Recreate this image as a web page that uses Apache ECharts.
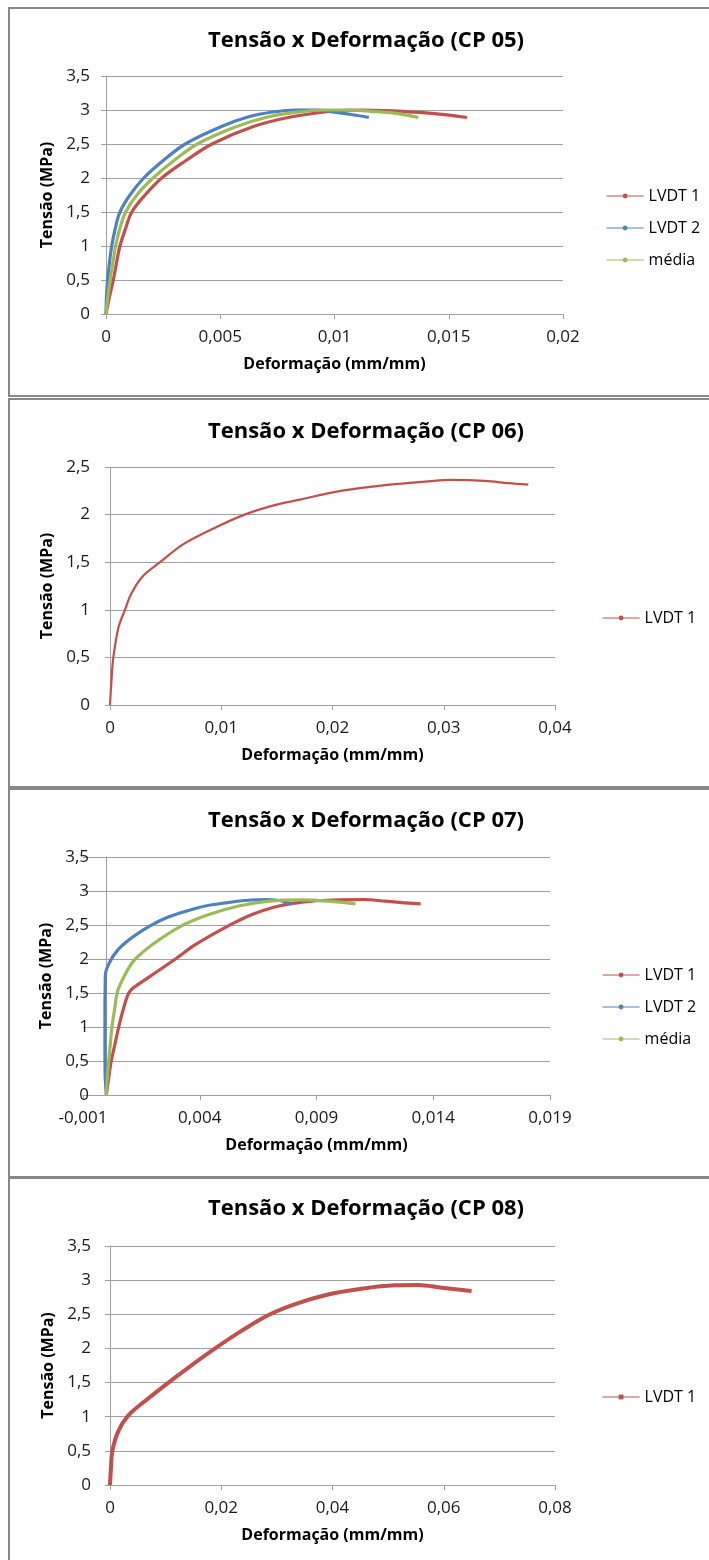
<!DOCTYPE html>
<html>
<head>
<meta charset="utf-8">
<script src="https://cdn.jsdelivr.net/npm/echarts@6/dist/echarts.min.js"></script>
<style>
html,body{margin:0;padding:0;background:#fff;}
.p{position:absolute;left:0;width:709px;}
</style>
</head>
<body>
<div id="c1" class="p" style="top:0;height:398px"></div>
<div id="c2" class="p" style="top:398px;height:390px"></div>
<div id="c3" class="p" style="top:788px;height:390px"></div>
<div id="c4" class="p" style="top:1178px;height:382px"></div>
<script>
// ---------- DATA ----------
var titles = ['Tensão x Deformação (CP 05)', 'Tensão x Deformação (CP 06)', 'Tensão x Deformação (CP 07)', 'Tensão x Deformação (CP 08)'];
var xName = 'Deformação (mm/mm)';
var yName = 'Tensão (MPa)';

// CP 05
var cp05_lvdt1 = [[0,0],[0.00015,0.25],[0.00032,0.5],[0.00046,0.75],[0.00061,1.0],[0.00085,1.25],[0.00113,1.5],[0.00171,1.75],[0.00244,2.0],[0.00347,2.25],[0.00464,2.5],[0.00639,2.75],[0.00814,2.9],[0.0100,2.985],[0.0112,3.0],[0.0123,2.99],[0.0134,2.97],[0.01458,2.94],[0.0158,2.89]];
var cp05_lvdt2 = [[0,0],[0.00002,0.25],[0.00007,0.5],[0.00015,0.75],[0.00025,1.0],[0.0004,1.25],[0.00061,1.5],[0.00105,1.75],[0.00165,2.0],[0.00248,2.25],[0.00347,2.5],[0.005,2.75],[0.00624,2.9],[0.0073,2.97],[0.0083,3.0],[0.0092,3.0],[0.0100,2.97],[0.0108,2.93],[0.0115,2.89]];
var cp05_media = [[0,0],[0.00008,0.25],[0.00018,0.5],[0.0003,0.75],[0.00042,1.0],[0.0006,1.25],[0.00086,1.5],[0.00135,1.75],[0.00206,2.0],[0.00295,2.25],[0.0040,2.5],[0.00566,2.75],[0.00712,2.9],[0.0084,2.97],[0.0095,3.0],[0.0105,3.0],[0.0116,2.98],[0.0127,2.95],[0.01367,2.89]];

// CP 06
var cp06_lvdt1 = [[0,0],[0.00015,0.29],[0.0003,0.5],[0.00075,0.81],[0.00135,1.0],[0.0019,1.165],[0.00285,1.34],[0.0045,1.5],[0.0066,1.69],[0.0094,1.86],[0.0121,2.0],[0.0148,2.1],[0.0172,2.16],[0.0199,2.23],[0.0226,2.28],[0.0256,2.32],[0.0286,2.35],[0.0307,2.365],[0.0337,2.355],[0.0358,2.33],[0.0376,2.315]];

// CP 07
var cp07_lvdt1 = [[0,0],[0.0001,0.25],[0.00021,0.5],[0.00037,0.75],[0.00053,1.0],[0.00074,1.28],[0.00096,1.5],[0.00117,1.58],[0.00181,1.73],[0.00296,2.0],[0.00381,2.21],[0.00524,2.49],[0.00624,2.655],[0.00739,2.78],[0.0088,2.85],[0.0100,2.87],[0.011,2.875],[0.01196,2.85],[0.01267,2.83],[0.01346,2.81]];
var cp07_lvdt2 = [[0,0],[-0.00005,0.3],[-0.00006,0.8],[-0.00006,1.3],[-0.00005,1.6],[-0.00004,1.775],[0.00017,1.97],[0.00046,2.12],[0.00089,2.26],[0.00139,2.385],[0.00189,2.49],[0.00253,2.6],[0.00339,2.70],[0.00424,2.78],[0.0051,2.825],[0.00596,2.86],[0.0068,2.875],[0.0074,2.86],[0.00796,2.81]];
var cp07_media = [[0,0],[0.00004,0.25],[0.0001,0.5],[0.00017,0.75],[0.00024,1.0],[0.00035,1.25],[0.00046,1.5],[0.0006,1.63],[0.00096,1.87],[0.00124,2.0],[0.00196,2.21],[0.00324,2.49],[0.00439,2.655],[0.00567,2.78],[0.00696,2.85],[0.00839,2.87],[0.00953,2.85],[0.01067,2.81]];

// CP 08
var cp08_lvdt1 = [[0,0],[0.00018,0.26],[0.00042,0.5],[0.0015,0.79],[0.0033,1.02],[0.0063,1.23],[0.0105,1.5],[0.0141,1.72],[0.0189,2.0],[0.0237,2.26],[0.0285,2.49],[0.0333,2.65],[0.0392,2.79],[0.0452,2.875],[0.0512,2.925],[0.0554,2.93],[0.0596,2.89],[0.065,2.84]];

// axis ranges [min, max, interval]
var xAxes = [[0,0.02,0.005],[0,0.04,0.01],[-0.001,0.019,0.005],[0,0.08,0.02]];
var yAxes = [[0,3.5,0.5],[0,2.5,0.5],[0,3.5,0.5],[0,3.5,0.5]];

// ---------- STYLE ----------
var RED = '#C0504D', BLUE = '#4F81BD', GREEN = '#9BBB59';
var FONT = 'Open Sans';
var GRID = '#a0a0a0';
function fmt(v){ return String(v).replace('.', ','); }

var layouts = [
  {grid:{left:106, top:76, width:457, height:238}, legendLeft:606, legendTop:188, titleTop:30, border:{x:9,y:8,h:388}, yMargin:16, yGap:46},
  {grid:{left:110, top:69, width:445, height:238}, legendLeft:602, legendTop:212, titleTop:23, border:{x:9,y:1,h:388}, yMargin:20, yGap:50},
  {grid:{left:83, top:69, width:467, height:238}, legendLeft:602, legendTop:179, titleTop:22, border:{x:9,y:1,h:388}, yMargin:-6, yGap:23},
  {grid:{left:110, top:68, width:445, height:239}, legendLeft:602, legendTop:211, titleTop:20, border:{x:9,y:0,h:420}, yMargin:19, yGap:50}
];

var seriesSets = [
  [{name:'LVDT 1', data:cp05_lvdt1, color:RED, w:3.2, sym:'circle'},
   {name:'LVDT 2', data:cp05_lvdt2, color:BLUE, w:3.2, sym:'circle'},
   {name:'média', data:cp05_media, color:GREEN, w:3.2, sym:'circle'}],
  [{name:'LVDT 1', data:cp06_lvdt1, color:RED, w:2.2, sym:'circle'}],
  [{name:'LVDT 1', data:cp07_lvdt1, color:RED, w:3.2, sym:'circle'},
   {name:'LVDT 2', data:cp07_lvdt2, color:BLUE, w:3.2, sym:'circle'},
   {name:'média', data:cp07_media, color:GREEN, w:3.2, sym:'circle'}],
  [{name:'LVDT 1', data:cp08_lvdt1, color:RED, w:4, sym:'rect'}]
];

function build(i){
  var L = layouts[i];
  var xa = xAxes[i], ya = yAxes[i];
  return {
    animation:false,
    title:{text:titles[i], left:366, top:L.titleTop, textAlign:'center', padding:0,
      textStyle:{fontFamily:FONT, fontSize:22, fontWeight:'bold', color:'#000'}},
    legend:{orient:'vertical', left:L.legendLeft, top:L.legendTop, padding:0, itemGap:16,
      itemWidth:37, itemHeight:6, lineStyle:{width:1.2},
      textStyle:{fontFamily:FONT, fontSize:16, color:'#000'},
      data:seriesSets[i].map(function(s){return s.name;})},
    graphic:[{type:'rect', silent:true, z:-10,
      shape:{x:L.border.x, y:L.border.y, width:800, height:L.border.h},
      style:{fill:'none', stroke:'#888888', lineWidth:2}}],
    grid:Object.assign({outerBoundsMode:'none', containLabel:false}, L.grid),
    xAxis:{type:'value', min:xa[0], max:xa[1], interval:xa[2],
      name:xName, nameLocation:'middle', nameGap:42,
      nameTextStyle:{fontFamily:FONT, fontSize:16, fontWeight:'bold', color:'#000'},
      axisLine:{show:true, onZero:false, lineStyle:{color:GRID, width:1}},
      axisTick:{show:true, inside:false, length:5, lineStyle:{color:GRID}},
      axisLabel:{fontFamily:FONT, fontSize:17, color:'#1a1a1a', margin:15, formatter:fmt},
      splitLine:{show:false}},
    yAxis:{type:'value', min:ya[0], max:ya[1], interval:ya[2],
      name:yName, nameLocation:'middle', nameGap:L.yGap,
      nameTextStyle:{fontFamily:FONT, fontSize:16, fontWeight:'bold', color:'#000'},
      axisLine:{show:true, onZero:true, lineStyle:{color:GRID, width:1}},
      axisTick:{show:true, inside:false, length:5, lineStyle:{color:GRID}},
      axisLabel:{fontFamily:FONT, fontSize:17, color:'#1a1a1a', margin:L.yMargin, formatter:fmt},
      splitLine:{show:true, lineStyle:{color:GRID, width:1}}},
    series:seriesSets[i].map(function(s){
      return {type:'line', name:s.name, data:s.data, smooth:0.35, showSymbol:false,
        symbol:s.sym, symbolSize:4, color:s.color,
        lineStyle:{color:s.color, width:s.w}, itemStyle:{color:s.color}};
    })
  };
}

['c1','c2','c3','c4'].forEach(function(id, i){
  var ch = echarts.init(document.getElementById(id), null, {renderer:'canvas'});
  ch.setOption(build(i));
});
</script>
</body>
</html>
